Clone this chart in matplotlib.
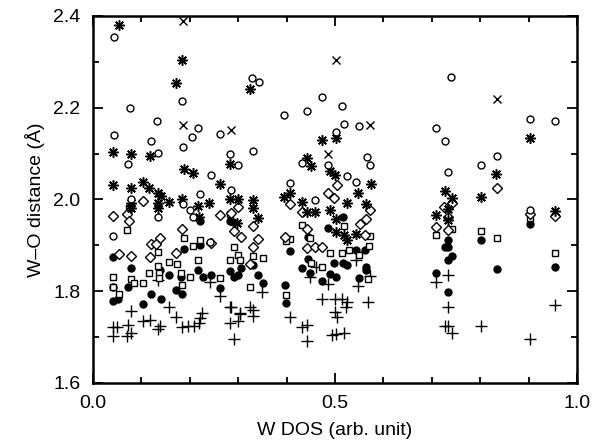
import matplotlib.pyplot as plt
from matplotlib.ticker import MultipleLocator

plt.rcParams['font.family'] = ['Liberation Sans', 'DejaVu Sans']

# W-O distances, one list pair per marker type
open_circle_x = [0.043, 0.076, 0.043, 0.133, 0.120, 0.135, 0.183, 0.216, 0.205, 0.187, 0.262, 0.284,
                 0.073, 0.300, 0.243, 0.221, 0.286, 0.042, 0.078, 0.135, 0.187, 0.200, 0.207, 0.242,
                 0.329, 0.342, 0.331, 0.395, 0.441, 0.473, 0.515, 0.518, 0.550, 0.502, 0.565, 0.572,
                 0.431, 0.486, 0.524, 0.407, 0.543, 0.458, 0.740, 0.708, 0.727, 0.902, 0.955, 0.834,
                 0.801, 0.734, 0.903]
open_circle_y = [2.353, 2.200, 2.140, 2.170, 2.127, 2.102, 2.215, 2.155, 2.137, 2.115, 2.143, 2.100,
                 2.077, 2.075, 2.053, 2.012, 2.021, 1.921, 2.000, 1.961, 1.991, 1.977, 1.962, 1.908,
                 2.264, 2.255, 2.106, 2.183, 2.193, 2.223, 2.203, 2.165, 2.160, 2.146, 2.093, 2.075,
                 2.079, 2.075, 2.051, 2.035, 2.039, 1.999, 2.267, 2.155, 2.127, 2.176, 2.171, 2.095,
                 2.074, 2.059, 1.976]

star_x = [0.054, 0.183, 0.171, 0.325, 0.042, 0.078, 0.118, 0.284, 0.188, 0.206, 0.041, 0.078,
          0.103, 0.116, 0.135, 0.140, 0.157, 0.183, 0.216, 0.240, 0.262, 0.284, 0.300, 0.135,
          0.135, 0.078, 0.078, 0.220, 0.297, 0.472, 0.502, 0.443, 0.450, 0.489, 0.499, 0.407,
          0.395, 0.574, 0.548, 0.431, 0.524, 0.564, 0.443, 0.458, 0.489, 0.502, 0.330, 0.330,
          0.341, 0.502, 0.518, 0.524, 0.543, 0.833, 0.727, 0.741, 0.801, 0.734, 0.708, 0.734,
          0.903, 0.955]
star_y = [2.380, 2.303, 2.253, 2.240, 2.103, 2.099, 2.095, 2.077, 2.066, 2.058, 2.032, 2.026,
          2.039, 2.024, 2.013, 2.008, 1.994, 2.000, 1.986, 1.992, 2.034, 2.002, 2.000, 1.992,
          1.981, 1.992, 1.981, 1.961, 1.948, 2.130, 2.133, 2.090, 2.072, 2.061, 2.053, 2.015,
          2.005, 2.034, 2.015, 1.995, 1.992, 1.990, 1.973, 1.973, 1.977, 1.957, 1.999, 1.981,
          1.959, 1.928, 1.923, 1.912, 1.925, 2.056, 2.018, 2.003, 2.005, 1.979, 1.967, 1.955,
          2.135, 1.975]

cross_x = [0.187, 0.187, 0.286, 0.502, 0.573, 0.486, 0.834]
cross_y = [2.389, 2.162, 2.151, 2.303, 2.162, 2.100, 2.220]

diamond_x = [0.042, 0.104, 0.071, 0.075, 0.262, 0.183, 0.119, 0.138, 0.131, 0.118, 0.054, 0.078,
             0.172, 0.291, 0.305, 0.300, 0.286, 0.325, 0.503, 0.407, 0.486, 0.498, 0.572, 0.431,
             0.564, 0.551, 0.331, 0.341, 0.442, 0.396, 0.442, 0.458, 0.472, 0.562, 0.330, 0.834,
             0.742, 0.725, 0.734, 0.903, 0.955, 0.708, 0.734, 0.243]
diamond_y = [1.964, 1.997, 1.968, 1.952, 1.966, 1.935, 1.903, 1.915, 1.904, 1.874, 1.881, 1.877,
             1.883, 1.932, 1.919, 1.984, 1.971, 1.859, 2.032, 1.990, 2.015, 2.003, 1.978, 1.973,
             1.957, 1.947, 1.942, 1.913, 1.935, 1.918, 1.895, 1.896, 1.896, 1.922, 1.896, 2.024,
             1.992, 1.983, 1.962, 1.968, 1.964, 1.941, 1.933, 1.906]

square_x = [0.042, 0.042, 0.054, 0.078, 0.071, 0.075, 0.084, 0.104, 0.116, 0.135, 0.137, 0.137,
            0.135, 0.188, 0.206, 0.221, 0.216, 0.174, 0.158, 0.181, 0.183, 0.200, 0.262, 0.291,
            0.300, 0.304, 0.284, 0.284, 0.325, 0.330, 0.352, 0.431, 0.448, 0.518, 0.573, 0.407,
            0.398, 0.489, 0.515, 0.528, 0.571, 0.550, 0.450, 0.472, 0.567, 0.398, 0.708, 0.742,
            0.801, 0.834, 0.903, 0.955]
square_y = [1.832, 1.810, 1.795, 1.826, 1.934, 1.981, 1.817, 1.817, 1.839, 1.855, 1.839, 1.828,
            1.886, 1.917, 1.898, 1.912, 1.868, 1.859, 1.864, 1.839, 1.813, 1.830, 1.828, 1.896,
            1.879, 1.867, 1.868, 1.968, 1.810, 1.877, 1.872, 1.944, 1.915, 1.942, 1.920, 1.913,
            1.910, 1.884, 1.884, 1.889, 1.898, 1.879, 1.861, 1.853, 1.826, 1.792, 1.923, 1.935,
            1.931, 1.916, 1.960, 1.883]

filled_x = [0.042, 0.042, 0.042, 0.052, 0.078, 0.073, 0.104, 0.119, 0.140, 0.139, 0.158, 0.188,
            0.172, 0.183, 0.181, 0.216, 0.221, 0.227, 0.243, 0.262, 0.284, 0.291, 0.300, 0.305,
            0.284, 0.290, 0.221, 0.330, 0.341, 0.352, 0.445, 0.486, 0.517, 0.407, 0.543, 0.562,
            0.444, 0.431, 0.448, 0.498, 0.517, 0.524, 0.564, 0.564, 0.472, 0.489, 0.502, 0.550,
            0.397, 0.399, 0.903, 0.801, 0.734, 0.727, 0.734, 0.734, 0.741, 0.955, 0.834, 0.708,
            0.734]
filled_y = [1.875, 1.810, 1.779, 1.782, 1.850, 1.810, 1.773, 1.795, 1.782, 1.846, 1.835, 1.891,
            1.802, 1.794, 1.830, 1.846, 1.901, 1.832, 1.835, 1.806, 1.843, 1.832, 1.835, 1.850,
            1.952, 1.950, 1.952, 1.857, 1.835, 1.817, 1.919, 1.937, 1.961, 1.888, 1.890, 1.890,
            1.871, 1.850, 1.840, 1.862, 1.862, 1.858, 1.853, 1.846, 1.823, 1.837, 1.830, 1.828,
            1.813, 1.775, 1.947, 1.912, 1.912, 1.897, 1.897, 1.867, 1.877, 1.852, 1.848, 1.840,
            1.798]

plus_x = [0.078, 0.135, 0.158, 0.242, 0.262, 0.284, 0.304, 0.042, 0.050, 0.041, 0.073, 0.071,
          0.078, 0.104, 0.118, 0.135, 0.138, 0.171, 0.183, 0.197, 0.209, 0.218, 0.221, 0.225,
          0.286, 0.283, 0.300, 0.304, 0.291, 0.324, 0.330, 0.331, 0.350, 0.407, 0.431, 0.443,
          0.443, 0.473, 0.500, 0.514, 0.524, 0.523, 0.500, 0.503, 0.493, 0.502, 0.519, 0.567,
          0.461, 0.448, 0.486, 0.543, 0.573, 0.548, 0.734, 0.708, 0.734, 0.955, 0.727, 0.734,
          0.741, 0.801, 0.903]
plus_y = [1.757, 1.824, 1.766, 1.821, 1.790, 1.766, 1.752, 1.723, 1.723, 1.702, 1.726, 1.702,
          1.710, 1.736, 1.737, 1.717, 1.724, 1.743, 1.721, 1.724, 1.724, 1.730, 1.741, 1.752,
          1.765, 1.730, 1.736, 1.750, 1.695, 1.766, 1.758, 1.746, 1.799, 1.743, 1.723, 1.726,
          1.692, 1.784, 1.782, 1.782, 1.777, 1.766, 1.755, 1.743, 1.704, 1.707, 1.710, 1.776,
          1.853, 1.830, 1.816, 1.868, 1.833, 1.811, 1.835, 1.820, 1.766, 1.770, 1.724, 1.724,
          1.710, 1.725, 1.695]

fig = plt.figure(figsize=(5.92, 4.42), dpi=100)
ax = fig.add_axes([0.157, 0.1335, 0.818, 0.8305])

k = dict(linestyle='none', color='black', markeredgewidth=1.0)
ax.plot(plus_x, plus_y, marker='+', markersize=8, **k)
ax.plot(filled_x, filled_y, marker='o', markersize=5, **k)
ax.plot(square_x, square_y, marker='s', markersize=5, markerfacecolor='white', **k)
ax.plot(diamond_x, diamond_y, marker='D', markersize=5, markerfacecolor='white', **k)
ax.plot(star_x, star_y, marker=(8, 2, 0), markersize=7.5, markeredgewidth=1.1,
        linestyle='none', color='black')
ax.plot(open_circle_x, open_circle_y, marker='o', markersize=5, markerfacecolor='white', **k)
ax.plot(cross_x, cross_y, marker='x', markersize=5.5, **k)

ax.set_xlim(0.0, 1.0)
ax.set_ylim(1.6, 2.4)
ax.xaxis.set_major_locator(MultipleLocator(0.5))
ax.xaxis.set_minor_locator(MultipleLocator(0.1))
ax.yaxis.set_major_locator(MultipleLocator(0.2))
ax.yaxis.set_minor_locator(MultipleLocator(0.1))
ax.xaxis.set_major_formatter(plt.FormatStrFormatter('%.1f'))
ax.yaxis.set_major_formatter(plt.FormatStrFormatter('%.1f'))
ax.tick_params(which='both', direction='in', top=True, right=True, labelsize=14, width=1.3)
ax.tick_params(which='major', length=7, pad=9)
ax.tick_params(which='minor', length=4)
for s in ax.spines.values():
    s.set_linewidth(1.8)

ax.set_xlabel('W DOS (arb. unit)', fontsize=14, labelpad=7)
ax.set_ylabel('W\u2013O distance (\u00c5)', fontsize=14, labelpad=6)

fig.savefig('out.png', dpi=100)
